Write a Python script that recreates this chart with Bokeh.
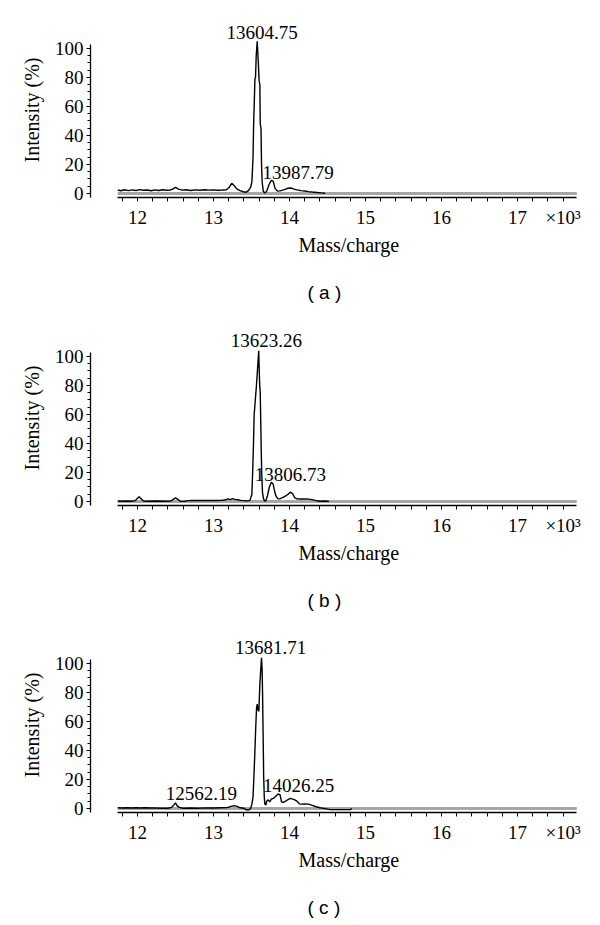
from bokeh.plotting import figure
from bokeh.models import (SingleIntervalTicker, FixedTicker, LabelSet, ColumnDataSource,
                          Range1d, Title)
from bokeh.layouts import column
from bokeh.embed import file_html
from bokeh.resources import INLINE

# ---------------- data (m/z in thousands, intensity in %) ----------------
a_mz = [11.74, 11.78, 11.83, 11.88, 11.93, 11.98, 12.03, 12.08, 12.13, 12.18, 12.23, 12.28,
        12.33, 12.38, 12.43, 12.47, 12.50, 12.54, 12.59, 12.64, 12.70, 12.76, 12.82, 12.88,
        12.94, 13.00, 13.06, 13.12, 13.17, 13.21, 13.24, 13.27, 13.31, 13.35, 13.39, 13.43,
        13.46, 13.49, 13.505, 13.52, 13.528, 13.535, 13.545, 13.553, 13.562, 13.575, 13.59,
        13.60, 13.61, 13.615, 13.625, 13.632, 13.64, 13.655, 13.675, 13.70, 13.73, 13.76,
        13.785, 13.81, 13.84, 13.87, 13.90, 13.94, 13.98, 14.02, 14.06, 14.10, 14.15, 14.20,
        14.25, 14.30, 14.36, 14.42, 14.47]
a_int = [2.4, 1.9, 2.6, 2.0, 2.5, 2.1, 2.7, 2.2, 2.4, 1.9, 2.5, 2.1,
         2.6, 2.2, 2.4, 3.2, 4.2, 3.0, 2.3, 2.6, 2.1, 2.5, 2.2, 2.6,
         2.3, 2.5, 2.2, 2.4, 2.6, 4.5, 7.0, 5.5, 3.0, 2.0, 1.2, 0.9,
         2.0, 4.5, 8, 25, 48, 60, 79, 80, 95, 105, 90,
         78, 75, 48, 45, 20, 8, 1.5, 0.3, 1.5, 6.0, 9.0,
         8.5, 3.5, 1.6, 1.8, 2.2, 2.8, 3.6, 3.8, 3.0, 2.5, 2.0, 1.7,
         1.3, 1.0, 0.7, 0.4, 0.2]

b_mz = [11.74, 11.80, 11.86, 11.92, 11.97, 12.00, 12.02, 12.05, 12.08, 12.15, 12.25, 12.35,
        12.44, 12.47, 12.50, 12.53, 12.56, 12.62, 12.66, 12.72, 12.80, 12.88, 12.96, 13.04,
        13.10, 13.15, 13.19, 13.22, 13.25, 13.28, 13.32, 13.36, 13.40, 13.44, 13.48, 13.505,
        13.515, 13.525, 13.535, 13.55, 13.565, 13.58, 13.595, 13.603, 13.608, 13.615, 13.62,
        13.628, 13.635, 13.645, 13.66, 13.675, 13.69, 13.71, 13.735, 13.76, 13.785, 13.80,
        13.82, 13.845, 13.87, 13.90, 13.94, 13.98, 14.01, 14.04, 14.07, 14.10, 14.15, 14.22,
        14.28, 14.34, 14.40, 14.46, 14.52]
b_int = [0.3, 0.2, 0.3, 0.2, 0.6, 2.2, 3.2, 1.8, 0.3, 0.2, 0.3, 0.2,
         0.3, 1.5, 2.5, 1.5, 0.2, 0.1, 0.6, 0.7, 0.8, 0.7, 0.8, 0.7,
         0.8, 1.0, 1.8, 1.3, 2.0, 1.5, 1.2, 0.8, 0.6, 0.4, 0.8, 5,
         20, 38, 60, 70, 80, 92, 104, 88, 80, 75, 60,
         35, 18, 6, 1.5, 0.2, 0.8, 4, 10, 13.3, 12, 8,
         4, 2.0, 1.8, 2.5, 3.5, 5, 6.4, 5.5, 2.5, 1.8, 1.7, 1.8,
         1.5, 0.8, 0.2, 0.3, 0.1]

c_mz = [11.74, 11.80, 11.86, 11.92, 11.98, 12.04, 12.10, 12.16, 12.22, 12.30, 12.40, 12.45,
        12.48, 12.50, 12.52, 12.55, 12.60, 12.70, 12.80, 12.90, 13.00, 13.10, 13.18, 13.23,
        13.27, 13.31, 13.35, 13.40, 13.43, 13.47, 13.49, 13.505, 13.52, 13.53, 13.54, 13.555,
        13.566, 13.575, 13.585, 13.597, 13.61, 13.622, 13.632, 13.64, 13.645, 13.654, 13.66,
        13.668, 13.675, 13.69, 13.70, 13.72, 13.74, 13.76, 13.79, 13.82, 13.85, 13.875,
        13.895, 13.92, 13.95, 13.98, 14.01, 14.04, 14.07, 14.10, 14.13, 14.16, 14.20, 14.25,
        14.30, 14.35, 14.40, 14.45, 14.54, 14.80, 14.82]
c_int = [0.5, 0.3, 0.5, 0.3, 0.5, 0.3, 0.5, 0.3, 0.4, 0.2, 0.2, 0.8,
         2.5, 3.9, 2.0, 0.8, 0.2, 0.3, 0.2, 0.4, 0.3, 0.5, 0.6, 1.5,
         2.0, 1.5, 0.5, 0.2, -0.9, -0.9, 0.2, 3, 8, 20, 33, 55,
         69, 72, 68, 67, 86, 96, 104, 95, 81, 47, 22,
         8, 3.2, 2.5, 5, 6, 4.5, 6.5, 7, 8.5, 10, 9.5,
         4.5, 4.2, 5.0, 6.2, 7, 6.5, 6, 5, 3.2, 3.0, 3.2, 3.0,
         2.2, 1.2, 0.5, 0.1, -0.8, -0.8, 0]

# grey reference trace along the baseline
base_mz = [11.74, 17.78]
base_int = [0, 0]

# peak annotations: (m/z of text centre, intensity level of text centre, text)
a_lab_x = [13.64, 14.112]
a_lab_y = [111.2, 14.7]
a_lab_t = ["13604.75", "13987.79"]
b_lab_x = [13.695, 14.013]
b_lab_y = [111.0, 18.6]
b_lab_t = ["13623.26", "13806.73"]
c_lab_x = [13.75, 12.84, 14.12]
c_lab_y = [111.2, 10.1, 15.9]
c_lab_t = ["13681.71", "12562.19", "14026.25"]

captions = ["( a )", "( b )", "( c )"]
x_tick_values = [12, 13, 14, 15, 16, 17, 17.6]
x_tick_labels = ["12", "13", "14", "15", "16", "17", "×10³"]
x_minor_ticks = [round(11.8 + 0.2 * i, 1) for i in range(30)]
y_tick_interval = 20

SERIF = "Liberation Serif"
SANS = "Liberation Sans"


def make_panel(mz, inten, lx, ly, lt, caption, height, top, bottom):
    p = figure(width=592, height=height, output_backend="svg", toolbar_location=None,
               x_range=Range1d(11.3816, 17.855), y_range=Range1d(-2.76, 117.93),
               min_border_left=90, min_border_right=10, min_border_top=top,
               min_border_bottom=bottom)
    p.outline_line_color = None
    p.grid.visible = False

    p.line(base_mz, base_int, line_color="#a6a6a6", line_width=3)
    p.line(mz, inten, line_color="black", line_width=1.4)

    src = ColumnDataSource(dict(x=lx, y=ly, text=lt))
    p.add_layout(LabelSet(x="x", y="y", text="text", source=src, text_align="center",
                          text_baseline="middle", text_font=SERIF, text_font_size="19px",
                          text_color="black"))

    for ax in (p.xaxis[0], p.yaxis[0]):
        ax.axis_line_width = 1.3
        ax.axis_line_color = "black"
        ax.major_tick_in = 0
        ax.major_tick_out = 4
        ax.minor_tick_in = 0
        ax.minor_tick_out = 4
        ax.major_tick_line_color = "black"
        ax.minor_tick_line_color = "black"
        ax.major_label_text_font = SERIF
        ax.major_label_text_font_size = "19px"
        ax.major_label_text_color = "black"
        ax.axis_label_text_font = SERIF
        ax.axis_label_text_font_size = "20px"
        ax.axis_label_text_font_style = "normal"
        ax.axis_label_text_color = "black"

    xa = p.xaxis[0]
    xa.ticker = FixedTicker(ticks=x_tick_values, minor_ticks=x_minor_ticks)
    xa.major_label_overrides = dict(zip(x_tick_values, x_tick_labels))
    xa.major_tick_line_color = None
    xa.bounds = (11.74, 17.78)
    xa.major_label_standoff = 5

    ya = p.yaxis[0]
    ya.ticker = SingleIntervalTicker(interval=y_tick_interval, num_minor_ticks=4)
    ya.bounds = (-2.76, 103)
    ya.minor_tick_out = 3
    ya.major_label_standoff = 3
    ya.axis_label = "Intensity (%)"
    ya.axis_label_standoff = 9

    p.add_layout(Title(text="Mass/charge", align="left", offset=208, standoff=2,
                       text_font=SERIF, text_font_size="20px", text_font_style="normal",
                       text_color="black"), "below")
    # empty spacer title (adds vertical gap before the caption)
    p.add_layout(Title(text=" ", align="left", standoff=19, text_font_size="1px",
                       text_color="white"), "below")
    p.add_layout(Title(text=caption, align="left", offset=217, standoff=2,
                       text_font=SANS, text_font_size="19px", text_font_style="normal",
                       text_color="black"), "below")
    return p


pa = make_panel(a_mz, a_int, a_lab_x, a_lab_y, a_lab_t, captions[0], 316, 22, 119)
pb = make_panel(b_mz, b_int, b_lab_x, b_lab_y, b_lab_t, captions[1], 307, 14, 118)
pc = make_panel(c_mz, c_int, c_lab_x, c_lab_y, c_lab_t, captions[2], 300, 14, 111)

layout = column(pa, pb, pc, spacing=0)
open("out.html", "w").write(file_html(layout, INLINE))
